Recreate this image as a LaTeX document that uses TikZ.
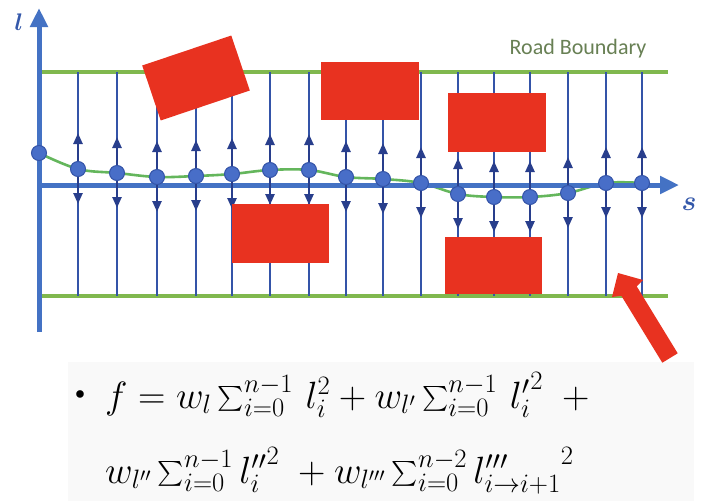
\RequirePackage{fix-cm}
\documentclass[tikz,border=0pt]{standalone}
\usepackage{amsmath,bm}
\usepackage{fontspec}
\newfontfamily\carlito{Carlito}
\usetikzlibrary{arrows.meta}
\definecolor{axisblue}{RGB}{68,114,196}
\definecolor{lineblue}{RGB}{52,84,168}
\definecolor{navy}{RGB}{40,62,140}
\definecolor{dotblue}{RGB}{72,110,200}
\definecolor{roadgreen}{RGB}{128,184,78}
\definecolor{curvegreen}{RGB}{100,182,92}
\definecolor{obsred}{RGB}{232,50,32}
\definecolor{labelgreen}{RGB}{104,128,84}
\definecolor{labelblue}{RGB}{52,88,170}
\tikzset{
  road/.style={draw=roadgreen, line width=4pt},
  vline/.style={draw=lineblue, line width=2.4pt},
  tiparrow/.style={draw=navy, line width=2.4pt, -{Triangle[width=9pt,length=11pt]}, navy},
  axis/.style={draw=axisblue, line width=5pt, -{Triangle[width=17pt,length=19pt]}},
  dot/.style={circle, fill=dotblue, draw=lineblue, line width=1pt, minimum size=15pt, inner sep=0pt},
  obstacle/.style={fill=obsred, inner sep=0pt, draw=none},
  eqfont/.style={font=\fontsize{38}{42}\selectfont},
}
\begin{document}
\begin{tikzpicture}[x=1pt,y=-1pt]
\useasboundingbox (0,0) rectangle (708,501);
\fill[white] (0,0) rectangle (708,501);
\fill[black!2.5] (68,362) rectangle (694,501);
% road boundaries
\coordinate (tb0) at (40,72); \coordinate (tb1) at (668,72);
\coordinate (bb0) at (40,296); \coordinate (bb1) at (668,296);
\draw[road] (tb0) -- (tb1);
\draw[road] (bb0) -- (bb1);
% vertical sampling lines
\foreach \x/\y [count=\i] in {78/169,117/173,157/177,196/176,232/174,270/170,309/170,346/177,383/179,421/183,458/194,494/197,530/197,568/193,606/183,642/183}{
  \coordinate (top\i) at (\x,72);
  \coordinate (bot\i) at (\x,296);
  \coordinate (p\i) at (\x,\y);
  \draw[vline] (top\i) -- (bot\i);
}
% green path
\draw[curvegreen, line width=2.6pt] plot[smooth, tension=0.6] coordinates {(39,153) (78,169) (117,173) (157,177) (196,176) (232,174) (270,170) (309,170) (346,177) (383,179) (421,183) (458,194) (494,197) (530,197) (568,193) (606,183) (642,183)};
% axes
\coordinate (o) at (39,185);
\coordinate (lb) at (39,332);
\coordinate (lt) at (39,8);
\coordinate (st) at (679,185);
\draw[axis] (lb) -- (lt);
\draw[axis] (o) -- (st);
% arrows on lines
\foreach \i in {1,...,16}{
  \draw[tiparrow] (p\i) -- ++(0,-36);
  \draw[tiparrow] (p\i) -- ++(0,35);
}
% dots
\node[dot] (p0n) at (39,153) {};
\foreach \i in {1,...,16}{ \node[dot] (pn\i) at (p\i) {}; }
% obstacles
\node[obstacle, minimum width=94pt, minimum height=58pt, rotate=18.6] (ob1) at (196,78) {};
\node[obstacle, minimum width=98pt, minimum height=58pt] (ob2) at (370,91) {};
\node[obstacle, minimum width=98pt, minimum height=59pt] (ob3) at (496.5,122.5) {};
\node[obstacle, minimum width=97pt, minimum height=59pt] (ob4) at (280.5,233.5) {};
\node[obstacle, minimum width=97pt, minimum height=57pt] (ob5) at (493.5,265.5) {};
% red pointer arrow
\fill[obsred] (618,273) -- (643,280) -- (636.7,286.3) -- (677.7,353.3) -- (662.3,362.7) -- (621.3,295.7) -- (612,297) -- cycle;
% labels
\node[text=labelblue, font=\fontsize{24}{26}\selectfont] (llab) at (19,22) {$\bm{l}$};
\node[text=labelblue, font=\fontsize{28}{30}\selectfont] (slab) at (689,204) {$\bm{s}$};
\node[text=labelgreen, font=\carlito\fontsize{22}{24}\selectfont] (rb) at (578,49) {Road Boundary};
% formula
\node[font=\fontsize{34}{36}\selectfont] (bul) at (80,397) {\textbullet};
\node[anchor=base west, inner sep=0pt, eqfont] (eq1) at (105,408)
  {$f = w_l \sum_{i=0}^{n-1} \, l_i^2 + w_{l'} \sum_{i=0}^{n-1} \, {l_i'}^2 \; + {}$};
\node[anchor=base west, inner sep=0pt, eqfont] (eq2) at (105,483)
  {$w_{l''} \sum_{i=0}^{n-1} {l_i''}^2 \; + w_{l'''} \sum_{i=0}^{n-2} {l'''_{i\to i+1}}^2$};
\end{tikzpicture}
\end{document}
